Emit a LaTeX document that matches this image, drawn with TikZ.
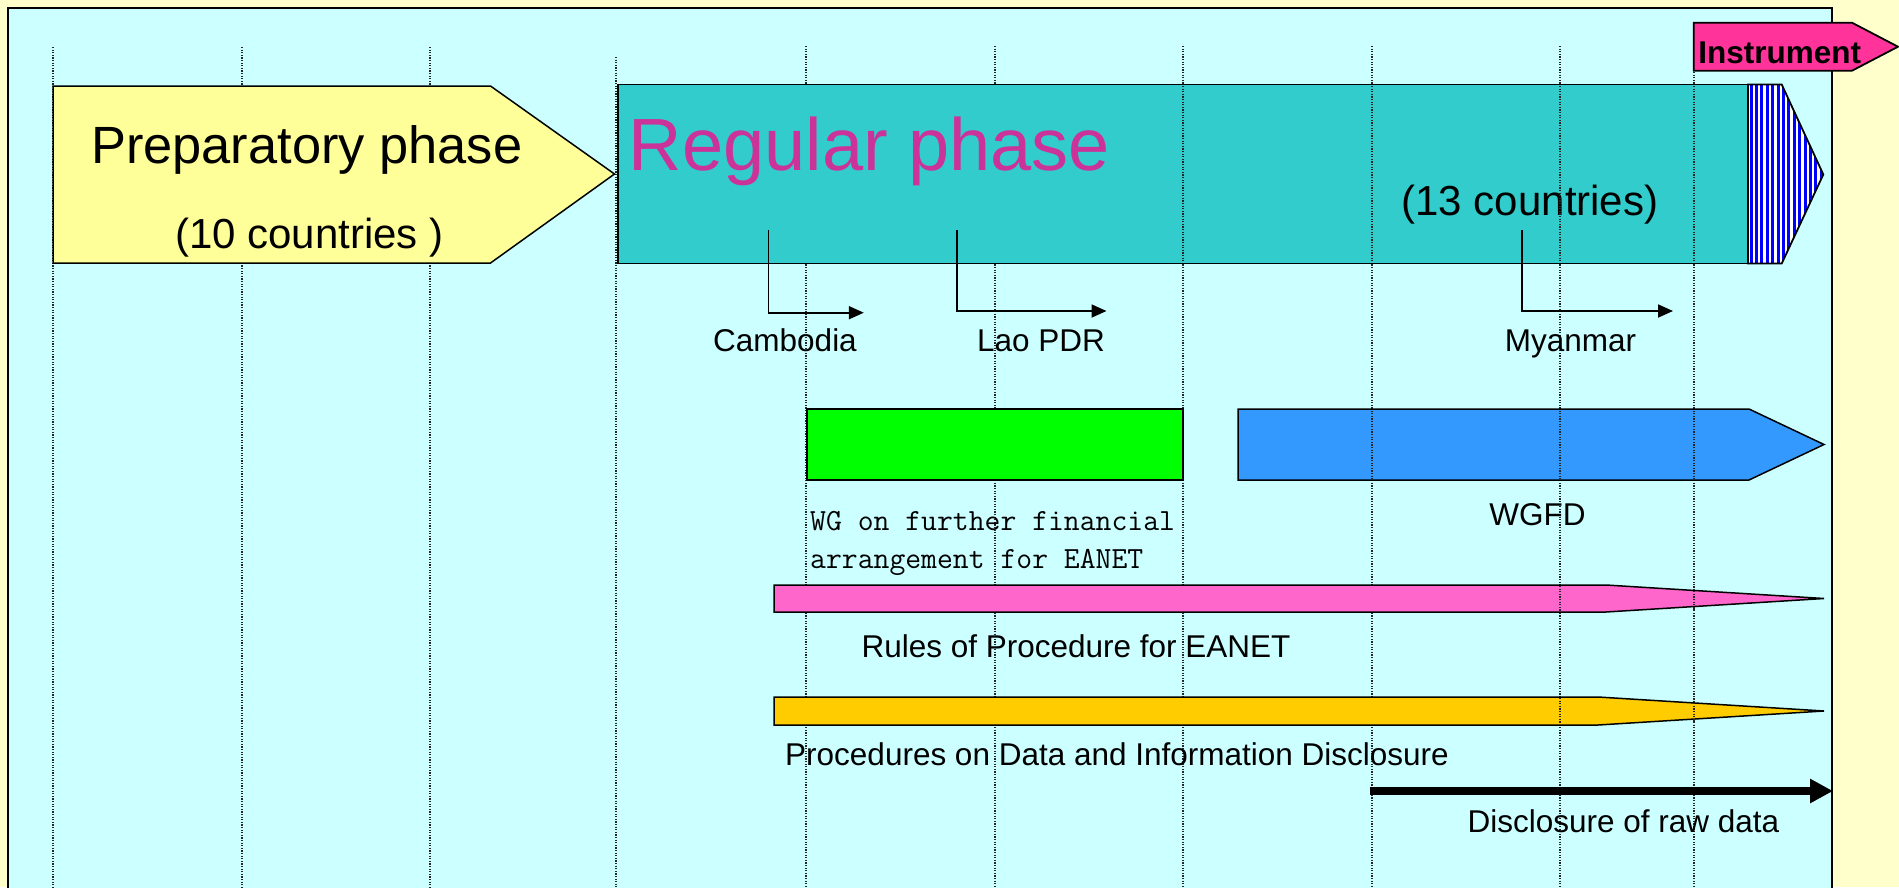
\documentclass[tikz,border=0pt]{standalone}
\usepackage{fontspec}
\setmainfont{Liberation Sans}
\usetikzlibrary{arrows.meta}
\definecolor{bgyellow}{HTML}{FFFFCC}
\definecolor{panelcyan}{HTML}{CCFFFF}
\definecolor{prepyellow}{HTML}{FFFF99}
\definecolor{regteal}{HTML}{33CCCC}
\definecolor{regtext}{HTML}{CC3399}
\definecolor{instpink}{HTML}{FF3399}
\definecolor{wggreen}{HTML}{00FF00}
\definecolor{wgfdblue}{HTML}{3399FF}
\definecolor{rulespink}{HTML}{FF66CC}
\definecolor{procorange}{HTML}{FFCC00}
\definecolor{hatchblue}{HTML}{0000FF}
\begin{document}
\begin{tikzpicture}[x=1pt,y=-1pt,
  gridline/.style={draw=black!85, line width=1.1pt, dash pattern=on 1.2pt off 1.4pt},
  boxline/.style={draw=black, line width=1.8pt, line join=miter},
  thinbox/.style={draw=black, line width=1.5pt, line join=miter},
  lbl/.style={font=\fontsize{31.5}{37}\selectfont, inner sep=0pt, anchor=base},
  conn/.style={draw=black, line width=1.8pt, -{Triangle[length=15pt,width=13pt]}},
  bigarrow/.style={draw=black, line width=8.7pt, -{Triangle[length=23pt,width=23pt]}}
]
\useasboundingbox (0,0) rectangle (1899,887);
\clip (0,0) rectangle (1899,887);
\fill[bgyellow] (0,0) rectangle (1899,887);
\draw[fill=panelcyan, line width=2pt] (7.5,7.5) rectangle (1832,900);

% dotted grid lines
\foreach \x/\y in {53/47,242/47,430/47,616/57,806/46,995/46,1183/46,1372/46,1560/46,1694/46}
  \draw[gridline] (\x,\y) -- (\x,887);

% Preparatory phase
\draw[thinbox, fill=prepyellow] (53,86) -- (490.5,86) -- (614.5,174) -- (490.5,263) -- (53,263) -- cycle;
\node[lbl, font=\fontsize{52.4}{60}\selectfont] (prep) at (306.7,163.3) {Preparatory phase};
\node[lbl, font=\fontsize{42}{48}\selectfont] (prepn) at (309.5,248.3) {(10 countries )};

% Regular phase
\draw[boxline, fill=regteal] (618,84.5) rectangle (1748,263.5);
\begin{scope}
  \clip (1748,84.5) -- (1781.7,84.5) -- (1823.3,174.5) -- (1781.7,263.5) -- (1748,263.5) -- cycle;
  \fill[white] (1740,80) rectangle (1830,270);
  \foreach \i in {0,...,14}
    \fill[hatchblue] ({1749.5+5.4*\i},80) rectangle ({1752.5+5.4*\i},270);
\end{scope}
\draw[boxline] (1748,84.5) -- (1781.7,84.5) -- (1823.3,174.5) -- (1781.7,263.5) -- (1748,263.5) -- cycle;
\node[lbl, font=\fontsize{74}{84}\selectfont, text=regtext] (reg) at (869.6,170) {Regular phase};
\node[lbl, font=\fontsize{42}{48}\selectfont] (regn) at (1530,215.6) {(13 countries)};

% Instrument
\draw[boxline, fill=instpink] (1693.7,22.7) -- (1852,22.7) -- (1898,46.7) -- (1852,70.7) -- (1693.7,70.7) -- cycle;
\node[lbl, font=\fontsize{31.5}{37}\selectfont\bfseries] (inst) at (1779.8,63.3) {Instrument};

% WG boxes
\draw[boxline, fill=wggreen] (806.6,409) rectangle (1183,480);
\node[inner sep=0pt, anchor=base west, align=left, font=\ttfamily\fontsize{30.8}{38}\selectfont] (wg) at (810,568) {WG on further financial\\arrangement for EANET};
\draw[thinbox, fill=wgfdblue] (1238,409) -- (1749,409) -- (1824,444.5) -- (1749,480) -- (1238,480) -- cycle;
\node[lbl] (wgfd) at (1537.5,525) {WGFD};

% Rules and procedures
\draw[thinbox, fill=rulespink] (774,585) -- (1606,585) -- (1824,598.5) -- (1606,612) -- (774,612) -- cycle;
\node[lbl] (rules) at (1076,657.7) {Rules of Procedure for EANET};
\draw[thinbox, fill=procorange] (774,697) -- (1598,697) -- (1824,711) -- (1598,725) -- (774,725) -- cycle;
\node[lbl] (proc) at (1117,765) {Procedures on Data and Information Disclosure};

% dotted lines drawn over some shapes
\foreach \x in {1183,1372,1560,1694}
  \draw[gridline] (\x,86) -- (\x,262);
\foreach \x in {1372,1560,1694}
  \draw[gridline] (\x,410.5) -- (\x,478.5);
\foreach \x in {1560,1694}
  \draw[gridline] (\x,586) -- (\x,611) (\x,698) -- (\x,724);

% country joins
\coordinate (camS) at (768.4,230);
\coordinate (camC) at (768.4,312.7);
\coordinate (camE) at (863.8,312.7);
\coordinate (laoS) at (957,230);
\coordinate (laoC) at (957,311);
\coordinate (laoE) at (1106.5,311);
\coordinate (myaS) at (1521.8,230);
\coordinate (myaC) at (1521.8,311);
\coordinate (myaE) at (1673,311);
\draw[conn] (camS) -- (camC) -- (camE);
\draw[conn] (laoS) -- (laoC) -- (laoE);
\draw[conn] (myaS) -- (myaC) -- (myaE);
\node[lbl] (cam) at (785,351.7) {Cambodia};
\node[lbl] (lao) at (1041,351.7) {Lao PDR};
\node[lbl] (mya) at (1570.5,351.7) {Myanmar};

% raw data disclosure
\coordinate (rawS) at (1370,791);
\coordinate (rawE) at (1833,791);
\draw[bigarrow] (rawS) -- (rawE);
\node[lbl] (raw) at (1623.4,832.7) {Disclosure of raw data};
\end{tikzpicture}
\end{document}
